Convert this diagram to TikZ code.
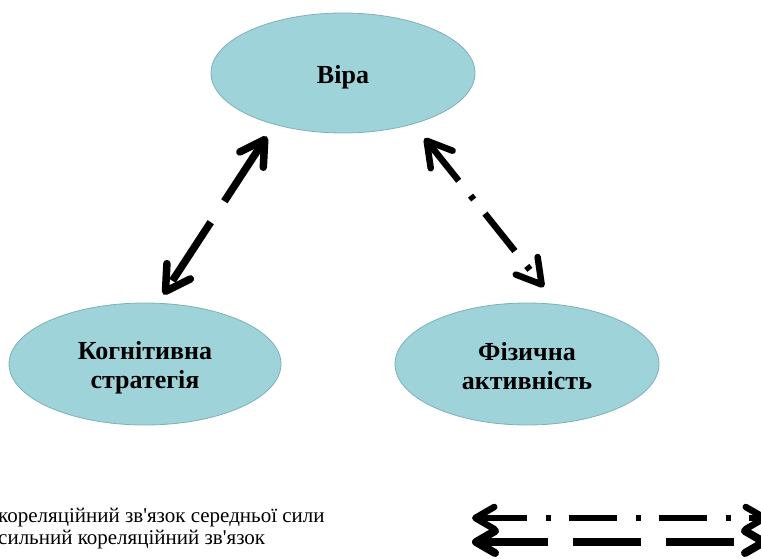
\documentclass[tikz,border=0pt]{standalone}
\usepackage{fontspec}
\setmainfont{Liberation Serif}
\newfontfamily\legendfont{Liberation Serif}[Ligatures=TeXOff]
\usetikzlibrary{shapes.geometric,arrows.meta}
\definecolor{bubblefill}{RGB}{157,211,217}
\definecolor{bubbleedge}{RGB}{128,176,184}
\tikzset{
  bigbarb/.tip={Straight Barb[length=24pt,width=28pt,round]},
  smallbarb/.tip={Straight Barb[length=19pt,width=22pt,round]},
  bubble/.style={ellipse, draw=bubbleedge, fill=bubblefill, line width=0.8pt, inner sep=0pt},
  bubbletext/.style={inner sep=0pt, align=center, font=\bfseries\fontsize{26}{29}\selectfont},
  strong/.style={line width=7.5pt, dash pattern=on 70pt off 25pt},
  moderate/.style={line width=6.5pt, dash pattern=on 48pt off 19pt on 5pt off 18pt},
  legendtext/.style={anchor=base west, inner sep=0pt, font=\legendfont\fontsize{21}{22}\selectfont}
}
\begin{document}
\begin{tikzpicture}[x=1pt,y=-1pt]
\useasboundingbox (0,0) rectangle (761,559);
\clip (0,0) rectangle (761,559);

% the three variables
\node[bubble, minimum width=264pt, minimum height=120pt] (vira) at (343,73) {};
\node[bubble, minimum width=272pt, minimum height=122pt] (kog) at (145,364) {};
\node[bubble, minimum width=264pt, minimum height=122pt] (fiz) at (527,364) {};
\node[bubbletext, yshift=-4pt] (viratext) at (vira.center) {Віра};
\node[bubbletext, yshift=-3.5pt] (kogtext) at (kog.center) {Когнітивна\\стратегія};
\node[bubbletext, yshift=-2pt] (fiztext) at (fiz.center) {Фізична\\активність};

% correlations
\draw[strong, bigbarb-bigbarb, shorten <=14pt, shorten >=10pt] (vira.217) -- (kog.78);
\draw[moderate, bigbarb-bigbarb, shorten <=18pt, shorten >=22pt] (vira.324) -- (fiz.63);

% legend
\coordinate (ma) at (472,518);
\coordinate (mb) at (768,518);
\coordinate (sa) at (472,542);
\coordinate (sb) at (768,542);
\draw[moderate, smallbarb-smallbarb] (ma) -- (mb);
\draw[strong, line width=8pt, dash pattern=on 68pt off 25pt, smallbarb-smallbarb] (sa) -- (sb);
\node[legendtext] (lg1) at (-2,522) {кореляційний зв'язок середньої сили};
\node[legendtext] (lg2) at (-2,544) {сильний кореляційний зв'язок};
\end{tikzpicture}
\end{document}
